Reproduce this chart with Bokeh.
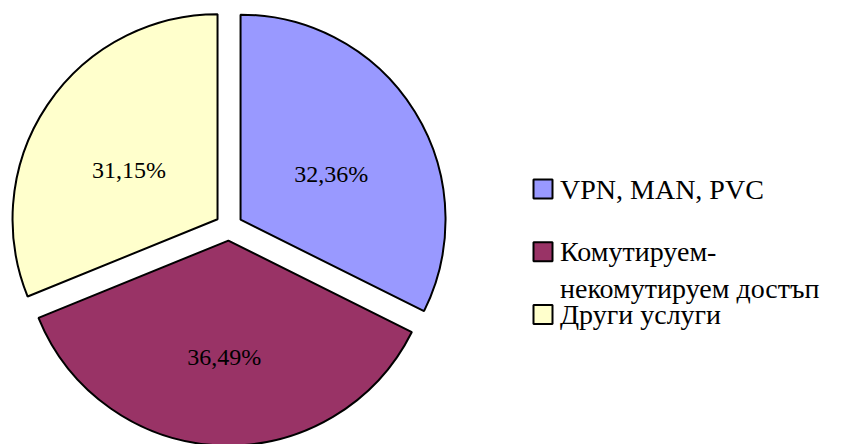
import math
from bokeh.plotting import figure
from bokeh.models import Range1d, ColumnDataSource
from bokeh.core.properties import value
from bokeh.embed import file_html
from bokeh.resources import INLINE

# ---- data ----
categories = ["VPN, MAN, PVC", "Комутируем-\nнекомутируем достъп", "Други услуги"]
shares = [32.36, 36.49, 31.15]
pct_labels = ["32,36%", "36,49%", "31,15%"]
colors = ["#9999FF", "#993366", "#FFFFCC"]

# ---- layout (screen-pixel data space, y up) ----
W, H = 861, 444
cx, cy = 228.4, 217.6
R = 205
explode = 13.7
label_r = 0.52 * R
FONT = "Liberation Serif"

p = figure(width=W, height=H, x_range=Range1d(0, W), y_range=Range1d(0, H),
           output_backend="svg", toolbar_location=None, min_border=0)
p.axis.visible = False
p.grid.visible = False
p.outline_line_color = None

total = sum(shares)
start = math.pi / 2
xs, ys, sa, ea, lx, ly = [], [], [], [], [], []
for s in shares:
    sweep = 2 * math.pi * s / total
    end = start - sweep
    mid = (start + end) / 2
    ox = cx + explode * math.cos(mid)
    oy = cy + explode * math.sin(mid)
    xs.append(ox); ys.append(oy)
    sa.append(start); ea.append(end)
    lx.append(ox + label_r * math.cos(mid))
    ly.append(oy + label_r * math.sin(mid) - 10)
    start = end

src = ColumnDataSource(dict(x=xs, y=ys, start=sa, end=ea, color=colors,
                            lx=lx, ly=ly, lab=pct_labels))
p.wedge(x="x", y="y", radius=R, start_angle="start", end_angle="end",
        direction="clock", fill_color="color", line_color="black",
        line_width=2, source=src)
p.text(x="lx", y="ly", text="lab", source=src, text_align="center",
       text_baseline="middle", text_font=value(FONT),
       text_font_size="24px", text_color="black")

# ---- legend ----
leg_x = 542.5
leg_top = H - 188.5
leg_step = 62.75
sq = 19
line_h = 37
desc = 6
for i, (cat, col) in enumerate(zip(categories, colors)):
    yc = leg_top - i * leg_step
    p.rect(x=[leg_x], y=[yc], width=sq, height=sq, width_units="screen",
           height_units="screen", fill_color=col, line_color="black",
           line_width=2)
    for j, line in enumerate(cat.split("\n")):
        p.text(x=[leg_x + 17], y=[yc - sq / 2 - desc - j * line_h], text=[line],
               text_align="left", text_baseline="bottom",
               text_font=value(FONT), text_font_size="28px",
               text_color="black")

open("out.html", "w").write(file_html(p, INLINE))
